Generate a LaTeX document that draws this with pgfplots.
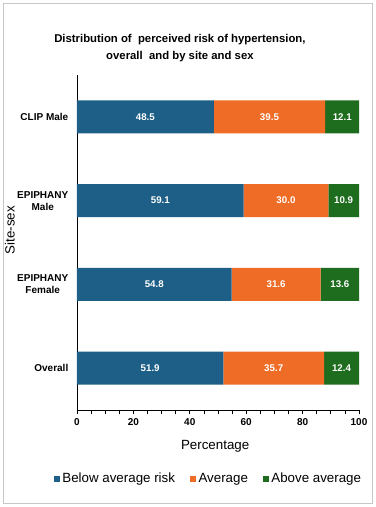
\documentclass[border=0pt]{standalone}
\usepackage{pgfplots}
\pgfplotsset{compat=1.18}
\usepackage{fontspec}
\setmainfont{Liberation Sans}
\definecolor{cBlue}{HTML}{1D5F87}
\definecolor{cOr}{HTML}{EE6C26}
\definecolor{cGr}{HTML}{1E6C1E}
\begin{document}
\begin{tikzpicture}
\fill[white] (0,0) rectangle (281.25pt,380.25pt);
\draw[black!22] (2.25pt,3pt) rectangle (279pt,378pt);
\begin{axis}[
  at={(57.75pt,72.75pt)}, anchor=south west,
  scale only axis, width=211.5pt, height=251.25pt,
  stack plots=x, bar width=24.75pt,
  xmin=0, xmax=100, ymin=-0.5, ymax=3.5,
  xtick={0,20,...,100}, minor x tick num=3,
  ytick={0,1,2,3},
  yticklabels={Overall,{EPIPHANY\\Female},{EPIPHANY\\Male},CLIP Male},
  yticklabel style={align=center, font=\fontsize{7.5}{9}\selectfont\bfseries},
  xticklabel style={font=\fontsize{7.5}{9}\selectfont\bfseries},
  /pgf/number format/assume math mode=true,
  axis x line*=bottom, axis y line*=left,
  axis line style={-, black, line width=0.6pt},
  tick align=outside,
  major tick length=3pt, minor tick length=3pt,
  xtick style={black, line width=0.5pt},
  ytick style={draw=none},
  xlabel={Percentage},
  xlabel style={at={(axis description cs:0.49,-0.107)}, anchor=center, font=\fontsize{10}{12}\selectfont},
  ylabel={Site-sex},
  ylabel style={at={(axis description cs:-0.238,0.537)}, anchor=center, font=\fontsize{10}{12}\selectfont},
  title={Distribution of\ \ perceived risk of hypertension,\\overall\ \ and by site and sex},
  title style={at={(axis description cs:0.365,1.057)}, anchor=center, align=center, font=\fontsize{8.5}{12.5}\selectfont\bfseries},
  legend style={at={(axis description cs:0.467,-0.206)}, anchor=center, legend columns=3, draw=none, fill=none,
    font=\fontsize{10}{12}\selectfont, /tikz/every even column/.append style={column sep=9pt}},
  legend image code/.code={\fill[#1] (0pt,-2.3pt) rectangle (4.6pt,2.3pt);},
]
\addplot[xbar, draw=none, fill=cBlue] coordinates {(51.9,0) (54.8,1) (59.1,2) (48.5,3)};
\addplot[xbar, draw=none, fill=cOr] coordinates {(35.7,0) (31.6,1) (30.0,2) (39.5,3)};
\addplot[xbar, draw=none, fill=cGr] coordinates {(12.4,0) (13.6,1) (10.9,2) (12.1,3)};
\legend{Below average risk, Average, Above average}
\addplot[forget plot, stack plots=false, only marks, mark=*, mark size=0pt, mark options={draw=none, fill=none},
  point meta=explicit symbolic, nodes near coords,
  nodes near coords style={anchor=center, white, font=\fontsize{7.3}{9}\selectfont\bfseries}]
  coordinates {
  (25.95,0) [51.9] (69.75,0) [35.7] (93.8,0) [12.4]
  (27.4,1) [54.8] (70.6,1) [31.6] (93.2,1) [13.6]
  (29.55,2) [59.1] (74.1,2) [30.0] (94.55,2) [10.9]
  (24.25,3) [48.5] (68.25,3) [39.5] (94.05,3) [12.1]
  };
\end{axis}
\end{tikzpicture}
\end{document}
